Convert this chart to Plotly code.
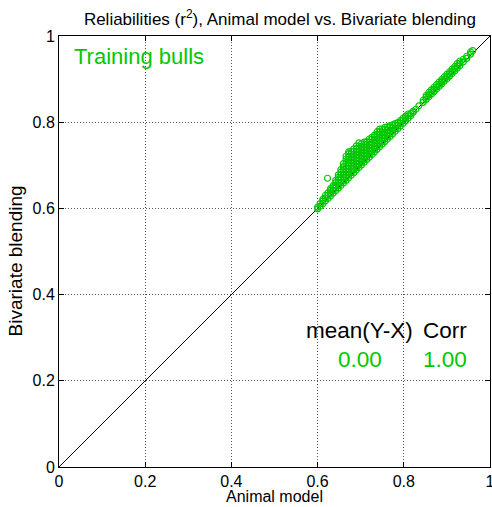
import plotly.graph_objects as go

# Main cloud: columns of Animal-model reliability (x) with the Bivariate values (y)
main_x = [0.600, 0.606, 0.612, 0.618, 0.623, 0.624, 0.630, 0.636, 0.642, 0.648, 0.654,
          0.660, 0.666, 0.672, 0.678, 0.684, 0.690, 0.696, 0.702, 0.708, 0.714, 0.720,
          0.726, 0.732, 0.738, 0.744, 0.750, 0.756, 0.762, 0.768, 0.774, 0.780, 0.786,
          0.792, 0.798, 0.804, 0.810, 0.816, 0.822, 0.828]
main_y = [
    [0.599, 0.603],
    [0.605, 0.611],
    [0.611, 0.617, 0.621],
    [0.617, 0.624, 0.630],
    [0.670],
    [0.623, 0.630, 0.636],
    [0.629, 0.636, 0.642, 0.646],
    [0.635, 0.642, 0.648, 0.653],
    [0.641, 0.648, 0.654, 0.660, 0.665],
    [0.647, 0.654, 0.660, 0.666, 0.672, 0.678],
    [0.653, 0.660, 0.666, 0.672, 0.678, 0.684, 0.690],
    [0.659, 0.666, 0.672, 0.678, 0.684, 0.690, 0.697, 0.704],
    [0.665, 0.672, 0.678, 0.685, 0.692, 0.699, 0.706, 0.714, 0.721],
    [0.671, 0.678, 0.685, 0.692, 0.699, 0.706, 0.713, 0.720, 0.727, 0.731],
    [0.677, 0.684, 0.691, 0.698, 0.705, 0.712, 0.719, 0.726, 0.732],
    [0.683, 0.690, 0.697, 0.704, 0.711, 0.718, 0.725, 0.732, 0.738],
    [0.689, 0.696, 0.703, 0.710, 0.717, 0.724, 0.731, 0.738, 0.745],
    [0.695, 0.702, 0.709, 0.716, 0.723, 0.730, 0.737, 0.744, 0.752],
    [0.701, 0.708, 0.715, 0.722, 0.729, 0.736, 0.743, 0.750],
    [0.707, 0.714, 0.721, 0.728, 0.735, 0.742, 0.749, 0.754],
    [0.713, 0.720, 0.727, 0.734, 0.741, 0.748, 0.755],
    [0.719, 0.726, 0.733, 0.740, 0.747, 0.754, 0.761],
    [0.725, 0.732, 0.739, 0.746, 0.753, 0.760, 0.765],
    [0.731, 0.738, 0.745, 0.752, 0.759, 0.766, 0.770],
    [0.737, 0.744, 0.751, 0.758, 0.765, 0.772, 0.778],
    [0.743, 0.750, 0.757, 0.764, 0.771, 0.778, 0.784],
    [0.749, 0.756, 0.763, 0.770, 0.777, 0.784],
    [0.755, 0.762, 0.769, 0.776, 0.783, 0.788],
    [0.761, 0.768, 0.775, 0.782, 0.789],
    [0.767, 0.774, 0.781, 0.788, 0.792],
    [0.773, 0.780, 0.787, 0.794],
    [0.779, 0.786, 0.793, 0.797],
    [0.785, 0.792, 0.799],
    [0.791, 0.798, 0.804],
    [0.797, 0.804, 0.809],
    [0.803, 0.810, 0.814],
    [0.809, 0.815, 0.819],
    [0.815, 0.820],
    [0.823, 0.826],
    [0.830],
]

# Upper cluster of bulls
upper_x = [0.835, 0.845, 0.852, 0.858, 0.864, 0.870, 0.876, 0.882, 0.888, 0.894,
           0.900, 0.906, 0.912, 0.918, 0.924, 0.930, 0.938, 0.946, 0.955, 0.960]
upper_y = [
    [0.838],
    [0.846, 0.851],
    [0.853, 0.858, 0.862],
    [0.859, 0.864, 0.869],
    [0.865, 0.870, 0.875],
    [0.871, 0.876, 0.881],
    [0.877, 0.882, 0.887],
    [0.883, 0.888, 0.893],
    [0.889, 0.894, 0.899],
    [0.895, 0.900, 0.905],
    [0.901, 0.906, 0.911],
    [0.907, 0.912, 0.917],
    [0.913, 0.918, 0.923],
    [0.919, 0.924, 0.929],
    [0.925, 0.930, 0.936],
    [0.931, 0.937, 0.942],
    [0.940, 0.946],
    [0.948, 0.953],
    [0.958, 0.963],
    [0.966],
]

diag_x = [0, 1]
diag_y = [0, 1]
tick_vals = [0, 0.2, 0.4, 0.6, 0.8, 1]
tick_text = ["0", "0.2", "0.4", "0.6", "0.8", "1"]
stat_headers = ["mean(Y-X)", "Corr"]
stat_values = ["0.00", "1.00"]

xs, ys = [], []
for cx, col in list(zip(main_x, main_y)) + list(zip(upper_x, upper_y)):
    for v in col:
        xs.append(cx)
        ys.append(v)

GREEN = "rgb(0,200,0)"
FONT = "Liberation Sans, Arial, sans-serif"

fig = go.Figure()
fig.add_trace(go.Scatter(x=diag_x, y=diag_y, mode="lines",
                         line=dict(color="black", width=1), showlegend=False, hoverinfo="skip"))
fig.add_trace(go.Scatter(x=xs, y=ys, mode="markers",
                         marker=dict(symbol="circle-open", size=6, color=GREEN,
                                     line=dict(width=1.2, color=GREEN)),
                         showlegend=False))

axis_common = dict(range=[0, 1], tickvals=tick_vals, ticktext=tick_text,
                   showgrid=True, gridcolor="#555", griddash="1px,2px", gridwidth=1,
                   showline=True, linecolor="black", linewidth=1, mirror="ticks",
                   ticks="inside", ticklen=5, tickcolor="black",
                   zeroline=False, tickfont=dict(size=16, color="black", family=FONT),
                   ticklabeloverflow="allow",
                   fixedrange=True, automargin=False)

fig.update_layout(
    width=492, height=507,
    margin=dict(l=59, r=2, t=36, b=40),
    paper_bgcolor="white", plot_bgcolor="white",
    font=dict(family=FONT, color="black"),
    title=dict(text="Reliabilities (r<sup>2</sup>), Animal model vs. Bivariate blending",
               x=0.569, xanchor="center", y=0.963, yanchor="middle",
               font=dict(size=17, family=FONT)),
    xaxis=dict(**axis_common),
    yaxis=dict(**axis_common),
)

# axis titles
fig.add_annotation(x=0.5, y=-0.068, xref="paper", yref="paper", text="Animal model",
                   showarrow=False, xanchor="center", yanchor="middle",
                   font=dict(size=16, color="black", family=FONT))
fig.add_annotation(x=-0.102, y=0.477, xref="paper", yref="paper", text="Bivariate blending",
                   showarrow=False, xanchor="center", yanchor="middle", textangle=-90,
                   font=dict(size=19, color="black", family=FONT))

fig.add_annotation(x=0.03, y=0.953, xref="paper", yref="paper", text="Training bulls",
                   showarrow=False, xanchor="left", yanchor="middle",
                   font=dict(size=22, color=GREEN, family=FONT))
for hx, txt in zip([0.826, 0.951], stat_headers):
    fig.add_annotation(x=hx, y=0.316, xref="paper", yref="paper", text=txt, showarrow=False,
                       xanchor="right", yanchor="middle", font=dict(size=22.5, color="black", family=FONT))
for hx, txt in zip([0.753, 0.951], stat_values):
    fig.add_annotation(x=hx, y=0.250, xref="paper", yref="paper", text=txt, showarrow=False,
                       xanchor="right", yanchor="middle", font=dict(size=22.5, color=GREEN, family=FONT))

fig.write_html("out.html", config={"displayModeBar": False},
               post_script="document.body.style.margin='0';")
